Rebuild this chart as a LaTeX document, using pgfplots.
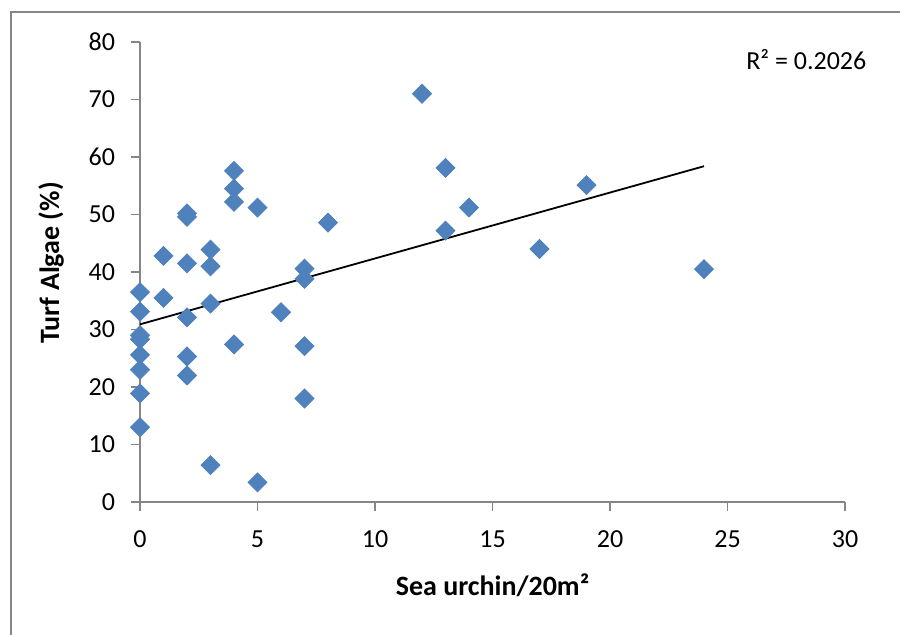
\documentclass[border=0pt]{standalone}
\usepackage{pgfplots}
\pgfplotsset{compat=1.18}
\usepackage{fontspec}
\setmainfont{Carlito}
\definecolor{xlblue}{HTML}{4F81BD}
\definecolor{axgray}{HTML}{868686}
\begin{document}
\begin{tikzpicture}[font=\fontsize{13}{15}\selectfont]
\useasboundingbox (0pt,0pt) rectangle (450pt,317pt);
\fill[white] (0pt,0pt) rectangle (450pt,317pt);
\draw[axgray, line width=0.75pt] (5.5pt,-5pt) -- (5.5pt,311pt) -- (460pt,311pt);
\begin{axis}[
  at={(70pt,66pt)}, anchor=south west,
  scale only axis, width=352.5pt, height=230pt,
  xmin=0, xmax=30, ymin=0, ymax=80,
  xtick={0,5,...,30}, ytick={0,10,...,80},
  axis x line=bottom, axis y line=left,
  axis line style={-, draw=axgray, line width=0.75pt},
  tick align=outside, major tick length=4.5pt,
  tick style={draw=axgray, line width=0.75pt},
  /pgf/number format/assume math mode=true,
  ticklabel style={font=\fontsize{13}{15}\selectfont},
  yticklabel style={xshift=-4.5pt},
  xticklabel style={yshift=-6.5pt},
  xlabel={\textbf{Sea urchin/20m²}},
  ylabel={\textbf{Turf Algae (\%)}},
  label style={font=\fontsize{14}{16}\selectfont},
  xlabel style={at={(axis description cs:0.5,-0.18)}, anchor=center},
  ylabel style={at={(axis description cs:-0.126,0.52)}, anchor=center},
  clip=false,
]
\addplot[only marks, mark=square*, mark size=3.35pt, mark options={rotate=45, fill=xlblue, draw=xlblue}] coordinates {
(0,36.5) (0,33.1) (0,29.0) (0,28.3) (0,25.6) (0,23.0) (0,18.9) (0,13.0)
(1,42.8) (1,35.5)
(2,50.2) (2,49.6) (2,41.5) (2,32.1) (2,25.3) (2,22.0)
(3,43.9) (3,41.0) (3,34.5) (3,6.4)
(4,57.6) (4,54.5) (4,52.2) (4,27.4)
(5,51.2) (5,3.4)
(6,33.0)
(7,40.6) (7,38.8) (7,27.1) (7,18.0)
(8,48.6)
(12,71.0)
(13,58.1) (13,47.2)
(14,51.2)
(17,44.0)
(19,55.1)
(24,40.5)
};
\addplot[black, line width=0.9pt, no marks] coordinates {(0,30.9) (24,58.4)};
\node[anchor=west, font=\fontsize{13}{15}\selectfont] at (axis cs:25.5,76.9) {R² = 0.2026};
\end{axis}
\end{tikzpicture}
\end{document}
